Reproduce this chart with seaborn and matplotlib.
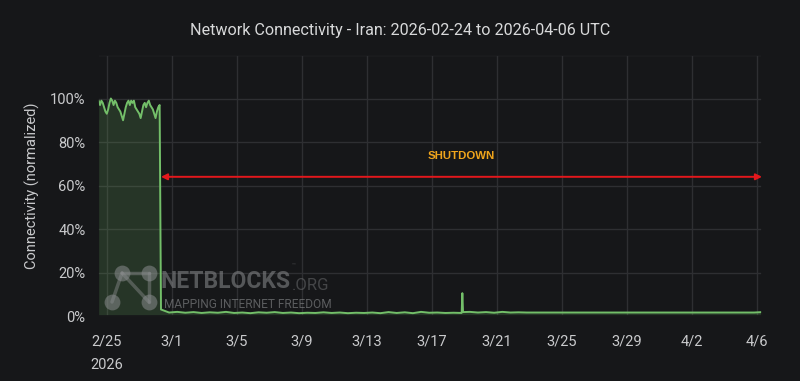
import matplotlib
matplotlib.use("Agg")
import matplotlib.pyplot as plt
import pandas as pd
import seaborn as sns

# pre-shutdown connectivity (%), every 2 hours from 2026-02-24 12:00
pre_start = "2026-02-24 12:00"
pre_values = [99, 97, 99, 98, 96, 94, 93, 95, 98, 100,
              99, 97, 99, 98, 96, 95, 94, 92, 90, 93,
              96, 98, 99, 97, 99, 98, 99, 96, 95, 94,
              93, 91, 94, 97, 98, 96, 98, 99, 97, 96,
              95, 93, 91, 94, 96, 97]

# after the shutdown, every 12 hours from 2026-02-28 08:00
post_start = "2026-02-28 08:00"
post_values = [3.0, 1.6,
               1.9, 1.5, 1.8, 1.4, 1.7, 1.5, 1.9, 1.4, 1.6, 1.3,
               1.7, 1.5, 1.8, 1.4, 1.6, 1.3, 1.5, 1.4, 1.7, 1.4,
               1.6, 1.3, 1.5, 1.4, 1.6, 1.3, 1.8, 1.4, 1.7, 1.3,
               1.9, 1.5, 1.6, 1.4, 1.5, 1.4, 1.9, 1.6, 1.8, 1.5,
               1.9, 1.6, 1.7, 1.6,
               1.6, 1.6, 1.6, 1.6, 1.6, 1.6, 1.6, 1.6, 1.6, 1.6,
               1.6, 1.6, 1.6, 1.6, 1.6, 1.6, 1.6, 1.6, 1.6, 1.6,
               1.6, 1.6, 1.6, 1.6, 1.6, 1.6, 1.6, 1.6,
               1.8]

# short spike on 18 March
spike_times = ["2026-03-18 21:00", "2026-03-18 22:00"]
spike_values = [10.5, 1.8]

shutdown_label = "SHUTDOWN"
tick_dates = pd.date_range("2026-02-25", "2026-04-06", freq="4D")
y_ticks = [0, 20, 40, 60, 80, 100, 120]

BG = "#161719"
GRID = "#2e2f32"
TEXT = "#c9cacc"
GREEN = "#73bf69"

pre = pd.DataFrame({
    "time": pd.date_range(pre_start, periods=len(pre_values), freq="2h"),
    "value": pre_values,
})
post = pd.DataFrame({
    "time": pd.date_range(post_start, periods=len(post_values), freq="12h"),
    "value": post_values,
})
spike = pd.DataFrame({"time": pd.to_datetime(spike_times), "value": spike_values})
df = pd.concat([pre, post, spike]).sort_values("time").reset_index(drop=True)

sns.set_theme(style="darkgrid", rc={
    "axes.facecolor": BG,
    "figure.facecolor": BG,
    "grid.color": GRID,
    "grid.linewidth": 1.0,
    "axes.edgecolor": BG,
    "text.color": TEXT,
    "xtick.color": TEXT,
    "ytick.color": TEXT,
    "axes.labelcolor": TEXT,
})
plt.rcParams["font.family"] = ["Roboto", "DejaVu Sans"]

fig = plt.figure(figsize=(8, 3.81), dpi=100)
ax = fig.add_axes([0.1225, 0.1706, 0.83, 0.685])

sns.lineplot(data=df, x="time", y="value", ax=ax, color=GREEN, linewidth=1.4)
ax.fill_between(df["time"], df["value"], color=GREEN, alpha=0.18, linewidth=0)

x_left = pd.Timestamp("2026-02-24 11:00")
x_right = pd.Timestamp("2026-04-06 07:30")
ax.set_xlim(x_left, x_right)
ax.set_ylim(0, 120)

ax.set_yticks(y_ticks)
ax.set_yticklabels([f"{v}%" if v <= 100 else "" for v in y_ticks])

ax.set_xticks(tick_dates)
labels = [f"{d.month}/{d.day}" for d in tick_dates]
labels[0] = labels[0] + "\n2026"
ax.set_xticklabels(labels, fontsize=10.5, linespacing=1.9, va="top")
ax.tick_params(axis="x", pad=13, length=0)
ax.tick_params(axis="y", pad=9, length=0, labelsize=10.5)

ax.set_xlabel("")
ax.set_ylabel("Connectivity (normalized)", fontsize=10.5, labelpad=7)
fig.text(0.5, 1 - 31 / 381, "Network Connectivity - Iran: 2026-02-24 to 2026-04-06 UTC",
         fontsize=11.6, color="#d8d9da", ha="center", va="center")

# shutdown arrow
shut_time = pd.Timestamp(post_start)
ax.annotate("", xy=(x_right, 64), xytext=(shut_time, 64),
            arrowprops=dict(arrowstyle="<|-|>", color="#e3171c", lw=1.4,
                            mutation_scale=9, shrinkA=0, shrinkB=0))
ax.text(pd.Timestamp("2026-03-18 20:00"), 73.5, shutdown_label, color="#f0a51c",
        fontsize=8.2, fontweight="bold", ha="center", va="center",
        family=["Liberation Sans", "DejaVu Sans"])

# watermark
wm = "#8a8c8e"
fig.text(161 / 800, 1 - 281 / 381, "NETBLOCKS", fontsize=16.5, fontweight="bold",
         color=wm, alpha=0.55, va="center", ha="left")
fig.text(292 / 800, 1 - 285 / 381, ".ORG", fontsize=12,
         color=wm, alpha=0.4, va="center", ha="left")
fig.text(292 / 800, 1 - 265 / 381, "\u2122", fontsize=4.5,
         color=wm, alpha=0.4, va="center", ha="left")
fig.text(164 / 800, 1 - 304 / 381, "MAPPING INTERNET FREEDOM", fontsize=8.6,
         color=wm, alpha=0.6, va="center", ha="left")
logo = fig.add_axes([100 / 800, 1 - 312 / 381, 58 / 800, 50 / 381])
logo.set_xlim(100, 158)
logo.set_ylim(312, 262)
logo.axis("off")
nodes = {"a": (122, 273), "b": (149, 273), "c": (112, 302), "d": (149, 302)}
for p, q in [("a", "b"), ("a", "c"), ("a", "d"), ("b", "d")]:
    logo.plot([nodes[p][0], nodes[q][0]], [nodes[p][1], nodes[q][1]],
              color=wm, alpha=0.45, lw=2.5)
logo.scatter([v[0] for v in nodes.values()], [v[1] for v in nodes.values()],
             s=130, color=wm, alpha=0.55, linewidths=0)

fig.savefig("out.png", dpi=100, facecolor=BG)
